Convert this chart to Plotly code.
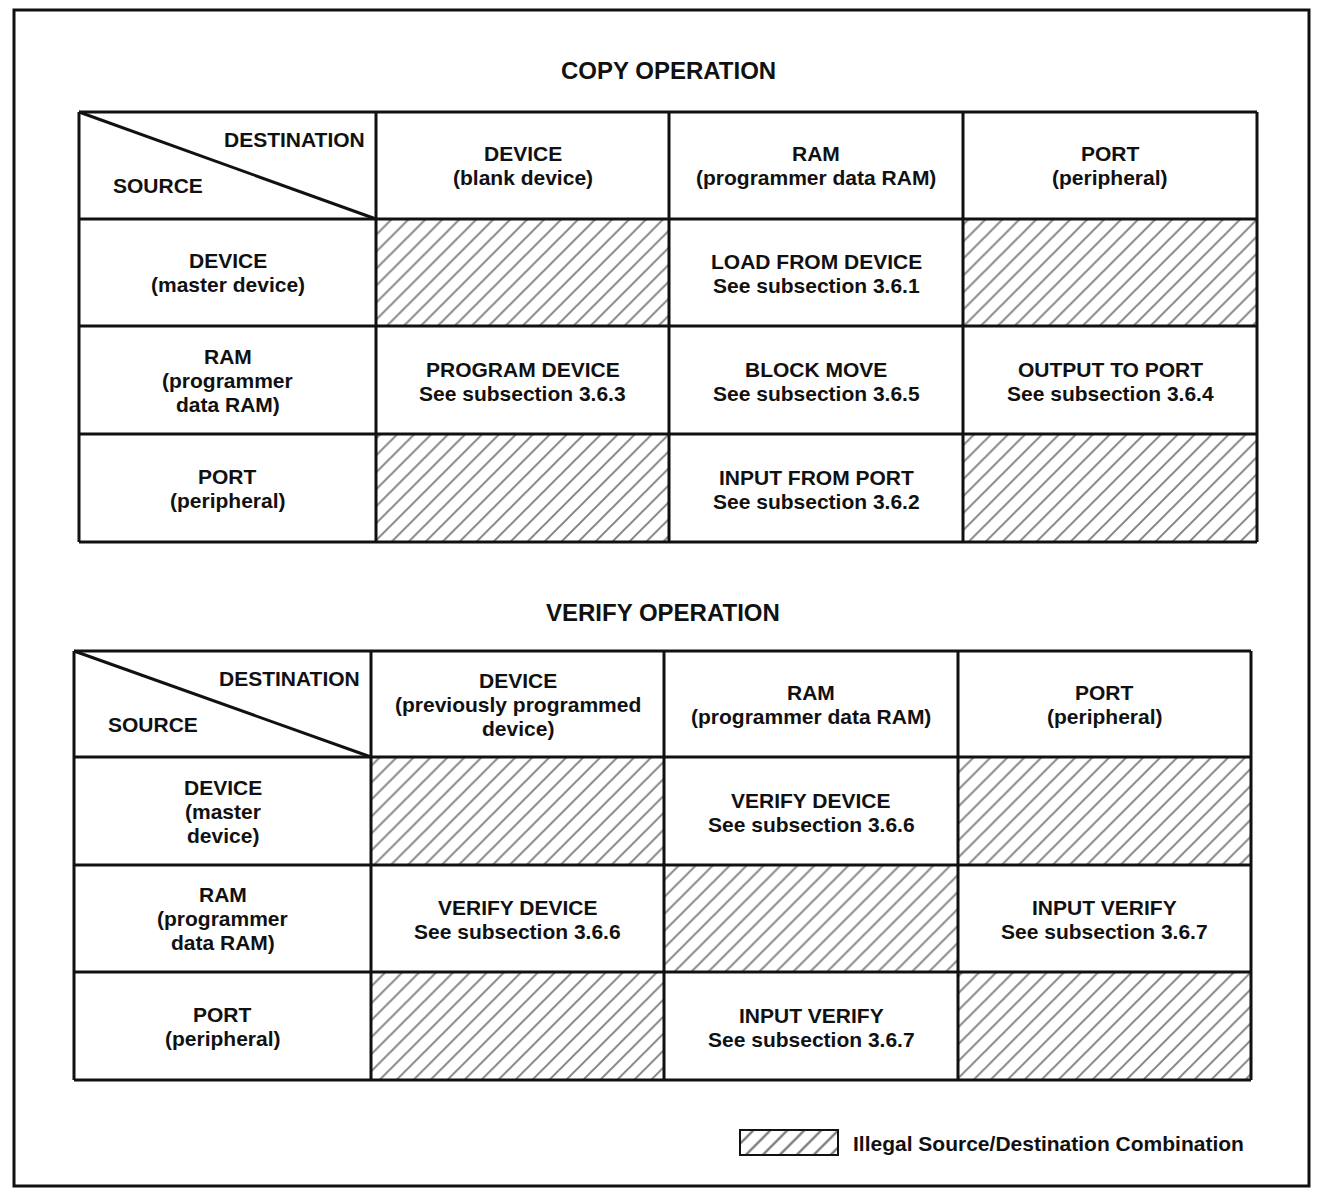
import plotly.graph_objects as go

# ---------------- data ----------------
copy_title = "COPY OPERATION"
verify_title = "VERIFY OPERATION"
corner_dest = "DESTINATION"
corner_src = "SOURCE"

copy_cols = ["DEVICE<br>(blank device)", "RAM<br>(programmer data RAM)", "PORT<br>(peripheral)"]
copy_rows = ["DEVICE<br>(master device)", "RAM<br>(programmer<br>data RAM)", "PORT<br>(peripheral)"]
copy_cells = [
    [None, "LOAD FROM DEVICE<br>See subsection 3.6.1", None],
    ["PROGRAM DEVICE<br>See subsection 3.6.3", "BLOCK MOVE<br>See subsection 3.6.5", "OUTPUT TO PORT<br>See subsection 3.6.4"],
    [None, "INPUT FROM PORT<br>See subsection 3.6.2", None],
]

verify_cols = ["DEVICE<br>(previously programmed<br>device)", "RAM<br>(programmer data RAM)", "PORT<br>(peripheral)"]
verify_rows = ["DEVICE<br>(master<br>device)", "RAM<br>(programmer<br>data RAM)", "PORT<br>(peripheral)"]
verify_cells = [
    [None, "VERIFY DEVICE<br>See subsection 3.6.6", None],
    ["VERIFY DEVICE<br>See subsection 3.6.6", None, "INPUT VERIFY<br>See subsection 3.6.7"],
    [None, "INPUT VERIFY<br>See subsection 3.6.7", None],
]

legend_text = "Illegal Source/Destination Combination"

# ---------------- layout geometry ----------------
W, H = 1318, 1189
FONT = "Liberation Sans, Arial, sans-serif"
INK = "#111111"
TXT = 21
LS = 24  # line spacing in px

fig = go.Figure()
shapes = []
annotations = []


def txtfont(size=TXT):
    return dict(size=size, family=FONT, color=INK, weight="bold")


def put_text(x, yc, text, size=TXT, xanchor="center"):
    lines = text.split("<br>")
    n = len(lines)
    for i, ln in enumerate(lines):
        y = yc + (i - (n - 1) / 2) * LS
        annotations.append(dict(x=x, y=y, text=ln, showarrow=False, font=txtfont(size),
                                xanchor=xanchor, yanchor="middle"))


def add_table(title, cols, rows, cells, col_edges, row_edges, title_y):
    put_text((col_edges[0] + col_edges[-1]) / 2, title_y, title, size=24)
    # hatched (illegal) cells drawn as patterned bars
    hx, hy, hb, hw = [], [], [], []
    for r, row in enumerate(cells):
        for c, val in enumerate(row):
            x0, x1 = col_edges[c + 1], col_edges[c + 2]
            y0, y1 = row_edges[r + 1], row_edges[r + 2]
            if val is None:
                hx.append((x0 + x1) / 2)
                hw.append(x1 - x0)
                hb.append(y0)
                hy.append(y1 - y0)
            else:
                put_text((x0 + x1) / 2, (y0 + y1) / 2 + 1, val)
    fig.add_trace(go.Bar(x=hx, y=hy, base=hb, width=hw, orientation="v",
                         marker=dict(color="white", line=dict(width=0),
                                     pattern=dict(shape="/", fgcolor="#000000", bgcolor="white",
                                                  size=12, solidity=0.16)),
                         hoverinfo="skip", showlegend=False))
    # column headers
    for c, txt in enumerate(cols):
        x0, x1 = col_edges[c + 1], col_edges[c + 2]
        put_text((x0 + x1) / 2, (row_edges[0] + row_edges[1]) / 2, txt)
    # row headers
    for r, txt in enumerate(rows):
        y0, y1 = row_edges[r + 1], row_edges[r + 2]
        put_text((col_edges[0] + col_edges[1]) / 2, (y0 + y1) / 2, txt)
    # corner cell
    put_text(col_edges[1] - 9, row_edges[0] + 27, corner_dest, xanchor="right")
    put_text(col_edges[0] + 32, row_edges[0] + 73, corner_src, xanchor="left")
    shapes.append(dict(type="line", x0=col_edges[0], y0=row_edges[0], x1=col_edges[1], y1=row_edges[1],
                       xref="x", yref="y", line=dict(color=INK, width=3)))
    # grid lines
    for x in col_edges:
        shapes.append(dict(type="line", x0=x, x1=x, y0=row_edges[0], y1=row_edges[-1],
                           xref="x", yref="y", line=dict(color=INK, width=3)))
    for y in row_edges:
        shapes.append(dict(type="line", x0=col_edges[0], x1=col_edges[-1], y0=y, y1=y,
                           xref="x", yref="y", line=dict(color=INK, width=3)))


add_table(copy_title, copy_cols, copy_rows, copy_cells,
          [79, 376, 669, 963, 1257], [112, 219, 326, 434, 542], 70)
add_table(verify_title, verify_cols, verify_rows, verify_cells,
          [74, 371, 664, 958, 1251], [651, 757, 865, 972, 1080], 612)

# legend swatch
fig.add_trace(go.Bar(x=[789], y=[25], base=[1130], width=[98],
                     marker=dict(color="white", line=dict(color=INK, width=2),
                                 pattern=dict(shape="/", fgcolor="#000000", bgcolor="white",
                                              size=12, solidity=0.2)),
                     hoverinfo="skip", showlegend=False))
put_text(851, 1143, legend_text, size=21, xanchor="left")

# outer frame
shapes.append(dict(type="rect", x0=14, x1=1309, y0=10, y1=1186, xref="x", yref="y",
                   line=dict(color=INK, width=3), layer="above"))

fig.update_layout(
    width=W, height=H, margin=dict(l=0, r=0, t=0, b=0),
    paper_bgcolor="white", plot_bgcolor="white",
    barmode="overlay", bargap=0,
    xaxis=dict(range=[0, W], visible=False, fixedrange=True),
    yaxis=dict(range=[H, 0], visible=False, fixedrange=True),
    shapes=shapes, annotations=annotations,
)

fig.write_html("out.html", config={"displayModeBar": False},
               post_script="document.body.style.margin='0';document.body.style.overflow='hidden';")
